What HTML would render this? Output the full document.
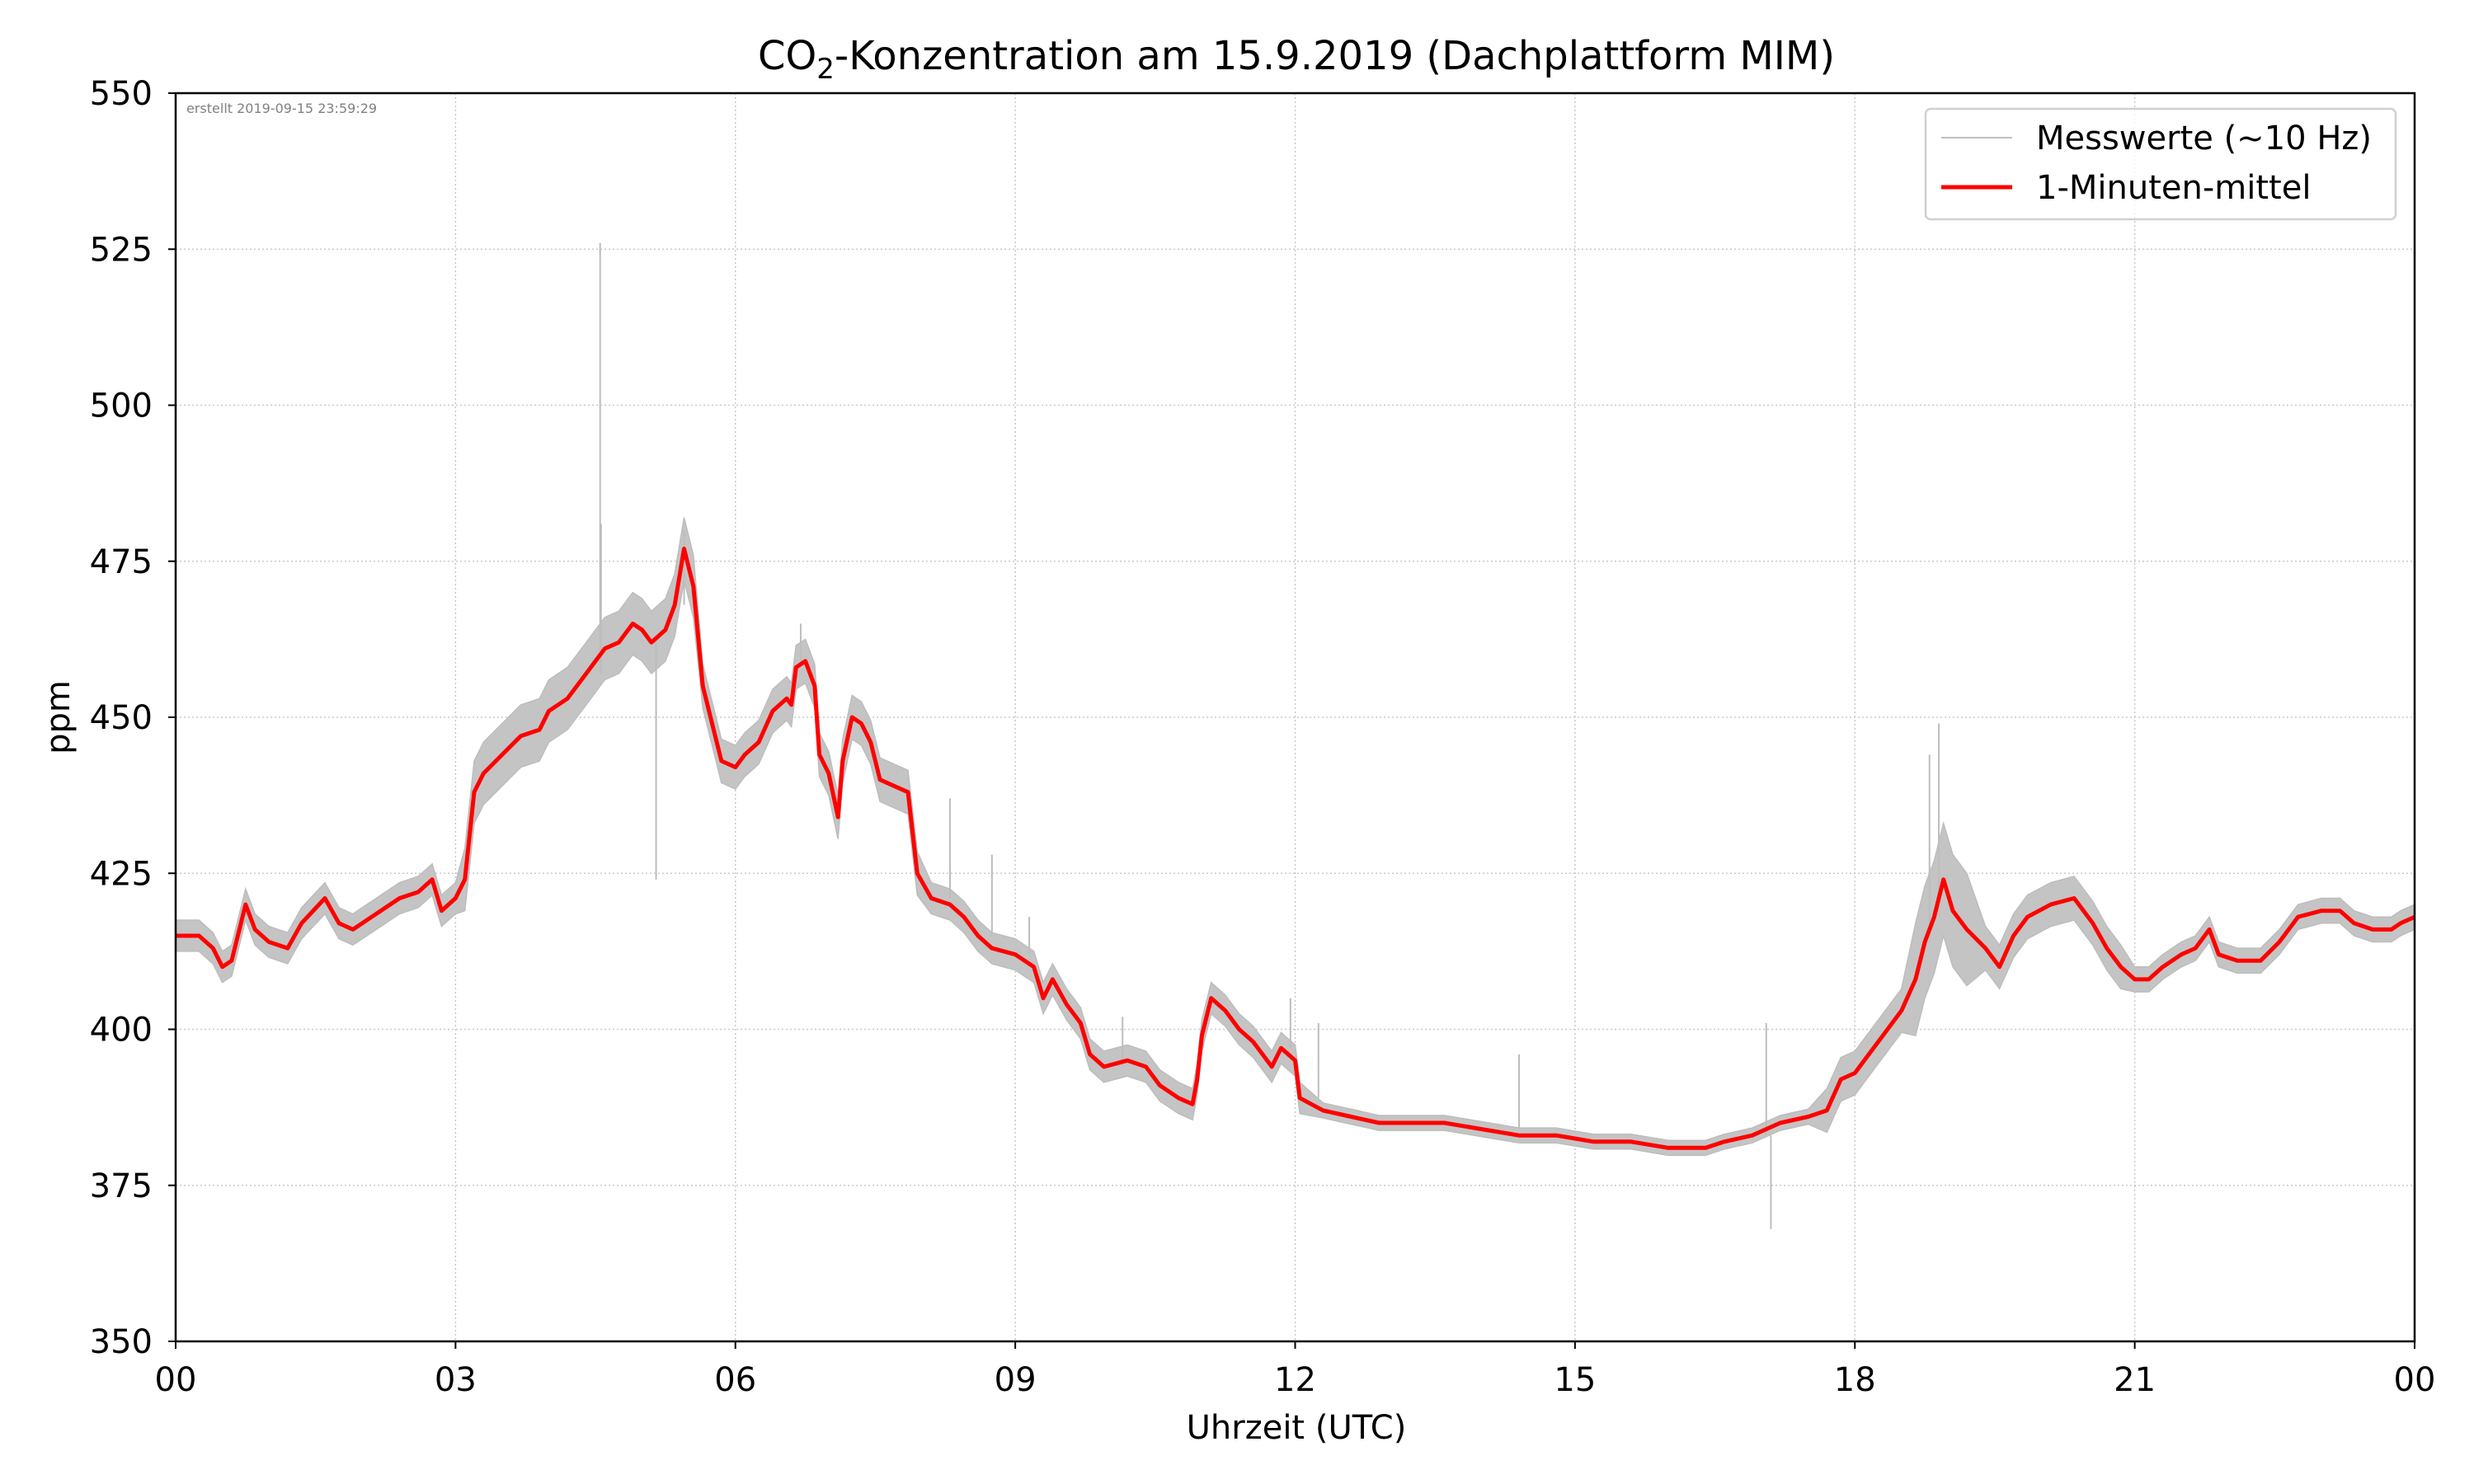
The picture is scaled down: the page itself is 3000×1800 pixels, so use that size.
<!DOCTYPE html>
<html><head><meta charset="utf-8"><style>
html,body{margin:0;padding:0;background:#fff}
svg{display:block;font-family:"DejaVu Sans","Liberation Sans",sans-serif}
</style></head><body>
<svg id="chart" width="3000" height="1800" viewBox="0 0 3000 1800" xmlns="http://www.w3.org/2000/svg">
<rect width="3000" height="1800" fill="#fff"/>
<g id="grid"></g>
<g id="series"></g>
<rect x="213" y="113" width="2715" height="1514" fill="none" stroke="#000" stroke-width="2.5"/>
<g id="ticks"></g>
<text x="1572" y="84" text-anchor="middle" font-size="48">CO<tspan font-size="34" dy="11">2</tspan><tspan dy="-11">-Konzentration am 15.9.2019 (Dachplattform MIM)</tspan></text>
<text x="226" y="137" font-size="16" fill="#808080">erstellt 2019-09-15 23:59:29</text>
<text transform="translate(84,870) rotate(-90)" text-anchor="middle" font-size="40">ppm</text>
<text x="1572" y="1745" text-anchor="middle" font-size="40">Uhrzeit (UTC)</text>
<g>
<rect x="2335" y="132" width="570" height="134" rx="6" fill="#fff" fill-opacity="0.8" stroke="#d0d0d0" stroke-width="2.5"/>
<line x1="2354" y1="167" x2="2440" y2="167" stroke="#bfbfbf" stroke-width="2"/>
<text x="2469" y="181" font-size="40">Messwerte (~10 Hz)</text>
<line x1="2354" y1="227" x2="2440" y2="227" stroke="#f00" stroke-width="5"/>
<text x="2469" y="241" font-size="40">1-Minuten-mittel</text>
</g>
</svg>
<script>
const meanTimes=[0,0.25,0.4,0.5,0.6,0.75,0.85,1.0,1.2,1.35,1.6,1.75,1.9,2.1,2.4,2.6,2.75,2.85,3.0,3.1,3.2,3.3,3.5,3.7,3.9,4.0,4.2,4.4,4.6,4.75,4.9,5.0,5.1,5.25,5.35,5.45,5.55,5.65,5.75,5.85,6.0,6.1,6.25,6.4,6.55,6.6,6.65,6.75,6.85,6.9,7.0,7.1,7.15,7.25,7.35,7.45,7.55,7.7,7.85,7.95,8.1,8.3,8.45,8.6,8.75,9.0,9.2,9.3,9.4,9.55,9.7,9.8,9.95,10.2,10.4,10.55,10.75,10.9,10.95,11.0,11.1,11.25,11.4,11.55,11.75,11.85,12.0,12.05,12.3,12.6,12.9,13.3,13.6,14.0,14.4,14.8,15.2,15.6,16.0,16.4,16.6,16.9,17.2,17.5,17.7,17.85,18.0,18.1,18.3,18.5,18.65,18.75,18.85,18.95,19.05,19.2,19.4,19.55,19.7,19.85,20.1,20.35,20.55,20.7,20.85,21.0,21.15,21.3,21.5,21.65,21.8,21.9,22.1,22.35,22.55,22.75,23.0,23.2,23.35,23.55,23.75,23.85,24];
const meanValues=[415,415,413,410,411,420,416,414,413,417,421,417,416,418,421,422,424,419,421,424,438,441,444,447,448,451,453,457,461,462,465,464,462,464,468,477,471,455,449,443,442,444,446,451,453,452,458,459,455,444,441,434,443,450,449,446,440,439,438,425,421,420,418,415,413,412,410,405,408,404,401,396,394,395,394,391,389,388,392,399,405,403,400,398,394,397,395,389,387,386,385,385,385,384,383,383,382,382,381,381,382,383,385,386,387,392,393,395,399,403,408,414,418,424,419,416,413,410,415,418,420,421,417,413,410,408,408,410,412,413,416,412,411,411,414,418,419,419,417,416,416,417,418];
const spreadTimes=[0,3.1,5.6,8.0,12.1,17.6,18.6,19.3,21.0,24];
const spreadValues=[2.5,5,3.5,2.5,1.2,3.5,9,3.5,2];
const spikeTimes=[4.55,4.56,5.15,5.45,6.7,8.3,8.75,9.15,10.15,11.95,12.25,14.4,17.05,17.1,18.8,18.9];
const spikeValues=[526,481,424,480,465,437,428,418,402,405,401,396,401,368,444,449];
const yTicks=[350,375,400,425,450,475,500,525,550];
const xTicks=[0,3,6,9,12,15,18,21,24];
const xTickLabels=["00","03","06","09","12","15","18","21","00"];

const L=213,R=2928,T=113,B=1627;
const xs=t=>L+(R-L)*t/24;
const ys=v=>B-(B-T)*(v-350)/200;
const NS="http://www.w3.org/2000/svg";
function mk(tag,parent,attrs){const e=document.createElementNS(NS,tag);for(const k in attrs)e.setAttribute(k,attrs[k]);parent.appendChild(e);return e;}
const grid=document.getElementById('grid'),ticks=document.getElementById('ticks'),series=document.getElementById('series');
yTicks.forEach(v=>{
  const g=mk('line',grid,{x1:L,x2:R,y1:ys(v),y2:ys(v),stroke:'#c8c8c8','stroke-width':1.5,'stroke-dasharray':'2,3'});
  
  
  const tk=mk('line',ticks,{x1:L-9,x2:L,y1:ys(v),y2:ys(v),stroke:'#000','stroke-width':2});
  
  
  const tx=mk('text',ticks,{x:L-28,y:ys(v)+14,'text-anchor':'end','font-size':40});
  tx.textContent=v;
  
  
});
xTicks.forEach((t,i)=>{
  const g=mk('line',grid,{x1:xs(t),x2:xs(t),y1:T,y2:B,stroke:'#c8c8c8','stroke-width':1.5,'stroke-dasharray':'2,3'});
  
  
  const tk=mk('line',ticks,{x1:xs(t),x2:xs(t),y1:B,y2:B+9,stroke:'#000','stroke-width':2});
  
  
  const tx=mk('text',ticks,{x:xs(t),y:B+60,'text-anchor':'middle','font-size':40});
  tx.textContent=xTickLabels[i];
  
  
});
function spreadAt(t){for(let i=0;i<spreadValues.length;i++){if(t<spreadTimes[i+1])return spreadValues[i];}return spreadValues[spreadValues.length-1];}
let d='';
meanTimes.forEach((t,i)=>{const s=spreadAt(t);d+=(i?'L':'M')+xs(t).toFixed(1)+','+ys(meanValues[i]+s).toFixed(1);});
for(let i=meanTimes.length-1;i>=0;i--){const s=spreadAt(meanTimes[i]);d+='L'+xs(meanTimes[i]).toFixed(1)+','+ys(meanValues[i]-s).toFixed(1);}
const band=mk('path',series,{d:d+'Z',fill:'#c4c4c4',stroke:'#bdbdbd','stroke-width':1.5});


spikeTimes.forEach((t,i)=>{
  let k=0;while(k<meanTimes.length-1&&meanTimes[k+1]<t)k++;
  const sp=mk('line',series,{x1:xs(t),x2:xs(t),y1:ys(meanValues[k]),y2:ys(spikeValues[i]),stroke:'#bdbdbd','stroke-width':2});
  
  
});
const pts=meanTimes.map((t,i)=>xs(t).toFixed(1)+','+ys(meanValues[i]).toFixed(1)).join(' ');
const ml=mk('polyline',series,{points:pts,fill:'none',stroke:'#f00','stroke-width':5,'stroke-linejoin':'round'});


</script>
</body></html>
